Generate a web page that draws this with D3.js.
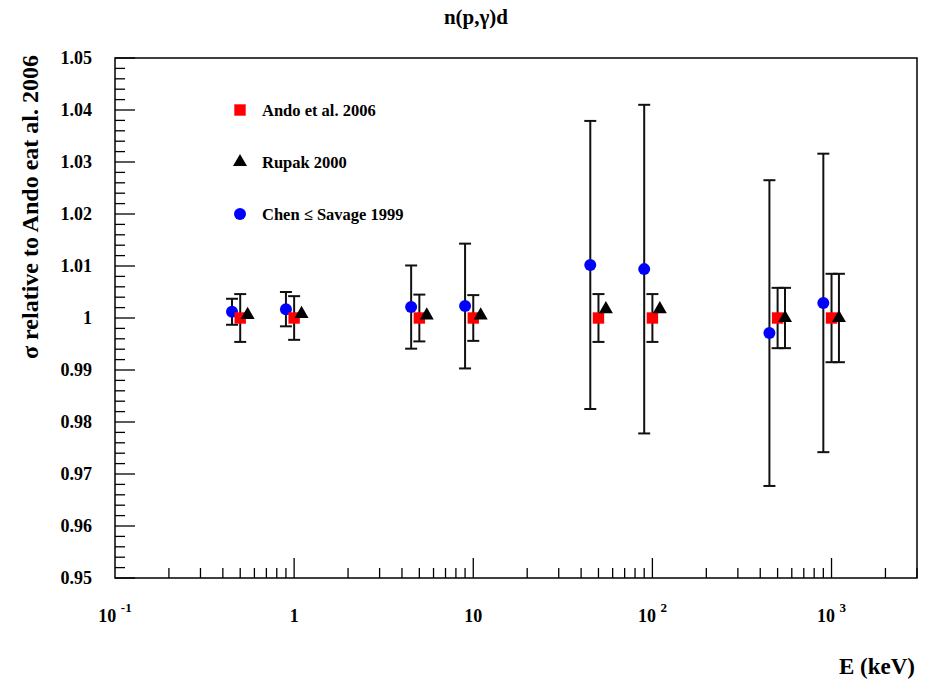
<!DOCTYPE html>
<html>
<head>
<meta charset="utf-8">
<script src="https://cdn.jsdelivr.net/npm/d3@7"></script>
<style>
  body { margin: 0; background: #fff; }
  text { font-family: "Liberation Serif", "Times New Roman", serif; font-weight: bold; }
</style>
</head>
<body>
<svg id="chart" width="933" height="682"></svg>
<script>
// energies (keV) and values
var energies = [0.5, 1, 5, 10, 50, 100, 500, 1000];

var andoVal = [1, 1, 1, 1, 1, 1, 1, 1];
var andoErr = [0.0046, 0.0042, 0.0045, 0.0044, 0.0046, 0.0046, 0.0058, 0.0085];

var rupakVal = [1.0006, 1.0008, 1.0005, 1.0005, 1.0017, 1.0017, 1.0, 1.0];
var rupakErr = [0, 0, 0, 0, 0, 0, 0.0058, 0.0085];

var chenVal = [1.0012, 1.0017, 1.0021, 1.0023, 1.0102, 1.0094, 0.9971, 1.0029];
var chenErr = [0.0025, 0.0033, 0.008, 0.012, 0.0277, 0.0316, 0.0294, 0.0287];

var yTicks = [0.95, 0.96, 0.97, 0.98, 0.99, 1, 1.01, 1.02, 1.03, 1.04, 1.05];
var xMajor = [0.1, 1, 10, 100, 1000];

(function drawChart() {
  var svg = d3.select('#chart');
  //frame edges (note: "top" would clash with window.top)
  var frameL = 115, frameR = 917, frameT = 58, frameB = 578;

  var x = d3.scaleLog().domain([0.1, 3000]).range([frameL, frameR]);
  var y = d3.scaleLinear().domain([0.95, 1.05]).range([frameB, frameT]);

  //Title
  svg.append('text')
    .attr('x', 476).attr('y', 24)
    .attr('text-anchor', 'middle')
    .attr('font-size', 21)
    .text('n(p,\u03b3)d');

  //Frame
  svg.append('rect')
    .attr('x', frameL).attr('y', frameT)
    .attr('width', frameR - frameL).attr('height', frameB - frameT)
    .attr('fill', 'none').attr('stroke', '#000').attr('stroke-width', 1.5);

  //Y ticks: major 0.01, minor 0.002
  var yMinor = d3.range(0, 51).map(function(i) { return 0.95 + i * 0.002; });
  svg.selectAll('.ytick').data(yMinor).enter().append('line')
    .attr('x1', frameL)
    .attr('x2', function(d, i) { return frameL + (i % 5 === 0 ? 20 : 10); })
    .attr('y1', function(d) { return y(d); })
    .attr('y2', function(d) { return y(d); })
    .attr('stroke', '#000').attr('stroke-width', 1.3);

  svg.selectAll('.ylab').data(yTicks).enter().append('text')
    .attr('x', 92)
    .attr('y', function(d) { return y(d) + 6; })
    .attr('text-anchor', 'end')
    .attr('font-size', 18)
    .text(function(d) { return d3.format('~g')(d); });

  //X ticks (log)
  var xMinor = [];
  for (var dec = -1; dec <= 3; dec++) {
    for (var m = 1; m <= 9; m++) {
      var v = m * Math.pow(10, dec);
      if (v > 0.1 && v <= 3000) xMinor.push({v: v, major: m === 1});
    }
  }
  svg.selectAll('.xtick').data(xMinor).enter().append('line')
    .attr('x1', function(d) { return x(d.v); })
    .attr('x2', function(d) { return x(d.v); })
    .attr('y1', frameB)
    .attr('y2', function(d) { return frameB - (d.major ? 20 : 10); })
    .attr('stroke', '#000').attr('stroke-width', 1.3);

  var xlab = svg.selectAll('.xlab').data(xMajor).enter().append('text')
    .attr('x', function(d) { return x(d); })
    .attr('y', 622)
    .attr('text-anchor', 'middle')
    .attr('font-size', 18);
  xlab.each(function(d) {
    var t = d3.select(this);
    var p = Math.round(Math.log10(d));
    if (p === 0) t.text('1');
    else if (p === 1) t.text('10');
    else {
      t.append('tspan').text('10 ');
      t.append('tspan').attr('dy', -10).attr('font-size', 13).text(p);
    }
  });

  //Axis titles
  svg.append('text')
    .attr('x', 915).attr('y', 674)
    .attr('text-anchor', 'end')
    .attr('font-size', 23)
    .text('E (keV)');

  svg.append('text')
    .attr('transform', 'translate(38,207) rotate(-90)')
    .attr('text-anchor', 'middle')
    .attr('font-size', 24)
    .text('\u03c3 relative to Ando eat al. 2006');

  //Error bars helper
  function errorBars(xs, vals, errs) {
    var g = svg.append('g').attr('stroke', '#111').attr('stroke-width', 2);
    xs.forEach(function(e, i) {
      if (!errs[i]) return;
      var cx = x(e), y0 = y(vals[i] + errs[i]), y1 = y(vals[i] - errs[i]);
      g.append('line').attr('x1', cx).attr('x2', cx).attr('y1', y0).attr('y2', y1);
      g.append('line').attr('x1', cx - 6).attr('x2', cx + 6).attr('y1', y0).attr('y2', y0);
      g.append('line').attr('x1', cx - 6).attr('x2', cx + 6).attr('y1', y1).attr('y2', y1);
    });
  }

  //Chen points shifted left, Rupak right, around each energy
  var chenE = energies.map(function(e) { return e * 0.9; });
  var rupakE = energies.map(function(e) { return e * 1.1; });

  errorBars(chenE, chenVal, chenErr);
  errorBars(energies, andoVal, andoErr);
  errorBars(rupakE, rupakVal, rupakErr);

  var sq = d3.symbol().type(d3.symbolSquare).size(130);
  var tri = d3.symbol().type(d3.symbolTriangle).size(85);

  svg.selectAll('.chen').data(energies).enter().append('circle')
    .attr('cx', function(d, i) { return x(chenE[i]); })
    .attr('cy', function(d, i) { return y(chenVal[i]); })
    .attr('r', 6).attr('fill', '#0000ff');

  svg.selectAll('.ando').data(energies).enter().append('path')
    .attr('d', sq)
    .attr('transform', function(d, i) { return 'translate(' + x(d) + ',' + y(andoVal[i]) + ')'; })
    .attr('fill', '#ff0000');

  svg.selectAll('.rupak').data(energies).enter().append('path')
    .attr('d', tri)
    .attr('transform', function(d, i) { return 'translate(' + x(rupakE[i]) + ',' + y(rupakVal[i]) + ')'; })
    .attr('fill', '#000');

  //Legend
  var legend = [
    {label: 'Ando et al. 2006', shape: 'sq', color: '#ff0000', ly: 110},
    {label: 'Rupak 2000', shape: 'tri', color: '#000', ly: 162},
    {label: 'Chen \u2264 Savage 1999', shape: 'circ', color: '#0000ff', ly: 214}
  ];
  legend.forEach(function(l) {
    if (l.shape === 'circ') {
      svg.append('circle').attr('cx', 240).attr('cy', l.ly).attr('r', 6).attr('fill', l.color);
    } else {
      svg.append('path').attr('d', l.shape === 'sq' ? sq : tri)
        .attr('transform', 'translate(240,' + l.ly + ')').attr('fill', l.color);
    }
    svg.append('text').attr('x', 262).attr('y', l.ly + 6)
      .attr('font-size', 16.5).text(l.label);
  });
})();
</script>
</body>
</html>
